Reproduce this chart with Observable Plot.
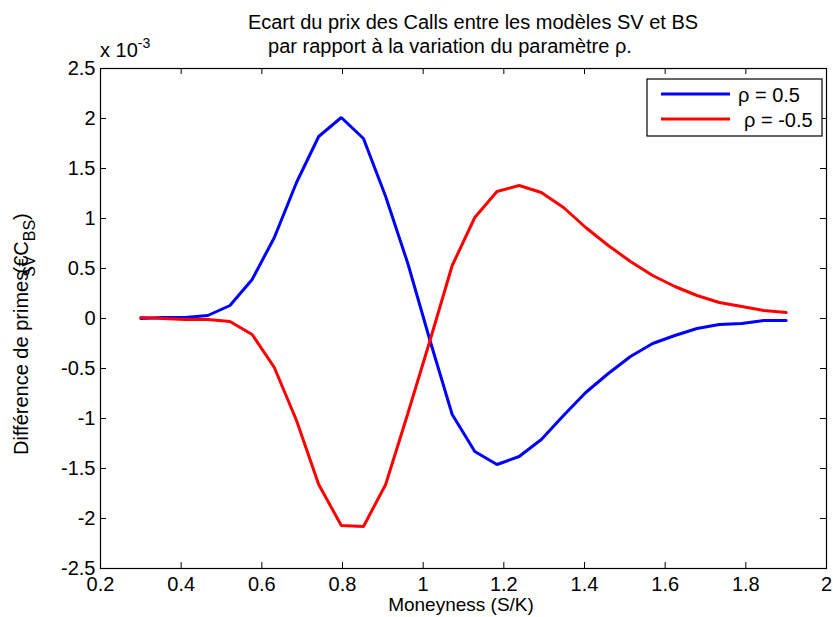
<!DOCTYPE html>
<html><head><meta charset="utf-8">
<script src="https://cdn.jsdelivr.net/npm/d3@7"></script>
<script src="https://cdn.jsdelivr.net/npm/@observablehq/plot@0.6"></script>
<style>body{margin:0;background:#fff} svg{display:block}</style>
</head><body><div id="chart"></div>
<script>
// Moneyness (S/K) sample points
const moneyness = [0.300,0.355,0.410,0.466,0.521,0.576,0.631,0.686,0.741,0.797,
                   0.852,0.907,0.962,1.017,1.072,1.128,1.183,1.238,1.293,1.348,
                   1.403,1.459,1.514,1.569,1.624,1.679,1.734,1.790,1.845,1.900];
// Price difference C_SV - C_BS (x 10^-3)
const rhoPos = [0.00,0.01,0.01,0.03,0.13,0.39,0.81,1.36,1.82,2.01,
                1.80,1.22,0.55,-0.22,-0.96,-1.33,-1.46,-1.38,-1.21,-0.97,
                -0.74,-0.55,-0.38,-0.25,-0.17,-0.10,-0.06,-0.05,-0.02,-0.02];
const rhoNeg = [0.01,0.00,-0.01,-0.01,-0.03,-0.16,-0.49,-1.02,-1.66,-2.07,
                -2.08,-1.66,-0.95,-0.22,0.53,1.01,1.27,1.33,1.26,1.11,
                0.91,0.73,0.57,0.43,0.32,0.23,0.16,0.12,0.08,0.06];
const seriesLabels = ["ρ = 0.5", "ρ = -0.5"];
const seriesColors = ["#0000ff", "#ff0000"];
const xTicks = [0.2,0.4,0.6,0.8,1,1.2,1.4,1.6,1.8,2];
const yTicks = [-2.5,-2,-1.5,-1,-0.5,0,0.5,1,1.5,2,2.5];
const titleLines = ["Ecart du prix des Calls entre les modèles SV et BS",
                    "par rapport à la variation du paramètre ρ."];
const xLabel = "Moneyness (S/K)";

const data = [];
moneyness.forEach((m,i)=>{
  data.push({x:m, y:rhoPos[i], series:seriesLabels[0]});
  data.push({x:m, y:rhoNeg[i], series:seriesLabels[1]});
});

const W=833, H=617, mL=100, mR=7, mT=68, mB=49;
const pw = W-mL-mR, ph = H-mT-mB, tk = 6;
const FONT = "'Liberation Sans', Arial, Helvetica, sans-serif";

const chart = Plot.plot({
  width:W, height:H, marginLeft:mL, marginRight:mR, marginTop:mT, marginBottom:mB,
  style:{fontFamily:FONT, fontSize:"20px", color:"black", background:"white", overflow:"visible"},
  x:{domain:[0.2,2], label:null},
  y:{domain:[-2.5,2.5], label:null},
  color:{domain:seriesLabels, range:seriesColors},
  marks:[
    Plot.line(data,{x:"x", y:"y", z:"series", stroke:"series", strokeWidth:3, strokeLinejoin:"miter"}),
    Plot.tickX(xTicks,{x:d=>d, insetTop:ph-tk, stroke:"black"}),
    Plot.tickX(xTicks,{x:d=>d, insetBottom:ph-tk, stroke:"black"}),
    Plot.tickY(yTicks,{y:d=>d, insetRight:pw-tk, stroke:"black"}),
    Plot.tickY(yTicks,{y:d=>d, insetLeft:pw-tk, stroke:"black"}),
    Plot.axisX(xTicks,{anchor:"bottom", tickSize:0, tickPadding:8, tickFormat:d=>String(d), fontSize:20, label:null}),
    Plot.axisY(yTicks,{anchor:"left", tickSize:0, tickPadding:5, tickFormat:d=>String(d), fontSize:20, label:null}),
    Plot.frame({stroke:"black", strokeWidth:1.2})
  ]
});
document.getElementById("chart").appendChild(chart);

const svg = d3.select(chart);
const g = svg.append("g").attr("font-family", FONT).attr("fill","black").attr("text-anchor","start");
// Title
g.append("text").attr("x",473).attr("y",29).attr("text-anchor","middle").attr("font-size",20).text(titleLines[0]);
g.append("text").attr("x",450).attr("y",53).attr("text-anchor","middle").attr("font-size",20).text(titleLines[1]);
// Multiplier
const mult = g.append("text").attr("x",100).attr("y",57).attr("font-size",20).attr("text-anchor","start");
mult.append("tspan").text("x 10");
mult.append("tspan").attr("dy",-9).attr("font-size",14).text("-3");
// X label
g.append("text").attr("x",461).attr("y",611).attr("text-anchor","middle").attr("font-size",19).text(xLabel);
// Y label
const yl = g.append("text").attr("transform","translate(28,455) rotate(-90)").attr("text-anchor","start").attr("font-size",20);
yl.append("tspan").text("Différence de primes");
yl.append("tspan").attr("dx",-6).attr("dy",7).attr("font-size",16).text("SV");
yl.append("tspan").attr("dx",-18).attr("dy",-7).text("(€C");
yl.append("tspan").attr("dy",7).attr("font-size",16).text("BS");
yl.append("tspan").attr("dy",-7).text(")");
// Legend
const lg = svg.append("g").attr("font-family", FONT).attr("text-anchor","start");
lg.append("rect").attr("x",647).attr("y",79).attr("width",175).attr("height",57)
  .attr("fill","white").attr("stroke","black").attr("stroke-width",1.2);
seriesLabels.forEach((s,i)=>{
  const yy = 94 + i*25;
  lg.append("line").attr("x1",661).attr("x2",730).attr("y1",yy).attr("y2",yy)
    .attr("stroke",seriesColors[i]).attr("stroke-width",3);
  lg.append("text").attr("x", i===0?738:744).attr("y",yy+8).attr("font-size",20).attr("fill","black").text(s);
});
</script>
</body></html>
